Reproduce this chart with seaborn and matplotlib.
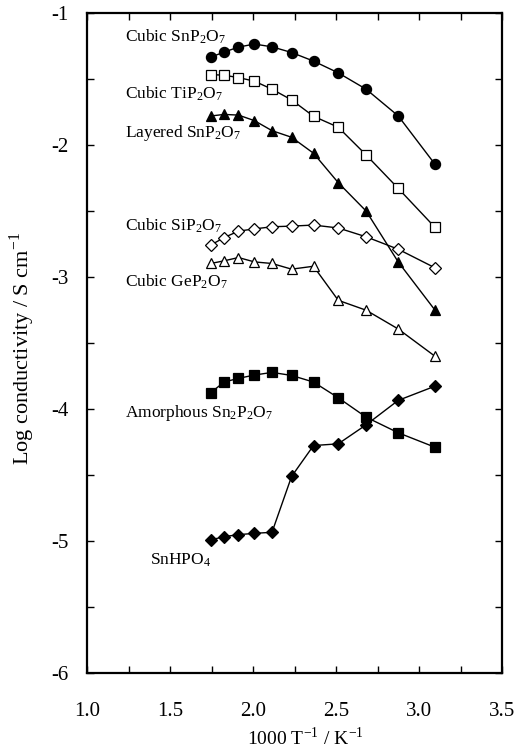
import numpy as np
import pandas as pd
import matplotlib
matplotlib.use("Agg")
import matplotlib.pyplot as plt
from matplotlib.ticker import MultipleLocator
import seaborn as sns

# 1000/T values (K^-1)
x_vals = [1.745, 1.825, 1.912, 2.008, 2.114, 2.232, 2.364, 2.513, 2.681, 2.874, 3.096]

cubic_snp2o7 = [-1.336, -1.298, -1.260, -1.237, -1.258, -1.301, -1.366, -1.455, -1.579, -1.781, -2.148]
cubic_tip2o7 = [-1.468, -1.473, -1.491, -1.518, -1.579, -1.660, -1.784, -1.867, -2.077, -2.330, -2.626]
layered_snp2o7 = [-1.782, -1.770, -1.775, -1.817, -1.893, -1.943, -2.064, -2.287, -2.502, -2.887, -3.253]
cubic_sip2o7 = [-2.760, -2.703, -2.654, -2.637, -2.621, -2.616, -2.608, -2.630, -2.697, -2.791, -2.932]
cubic_gep2o7 = [-2.899, -2.879, -2.854, -2.887, -2.899, -2.942, -2.920, -3.178, -3.253, -3.395, -3.602]
amorphous_sn2p2o7 = [-3.878, -3.797, -3.769, -3.744, -3.724, -3.747, -3.797, -3.916, -4.063, -4.181, -4.291]
snhpo4 = [-4.993, -4.968, -4.953, -4.943, -4.935, -4.512, -4.278, -4.265, -4.121, -3.936, -3.828]

labels = ["Cubic SnP$\\mathregular{_2}$O$\\mathregular{_7}$",
          "Cubic TiP$\\mathregular{_2}$O$\\mathregular{_7}$",
          "Layered SnP$\\mathregular{_2}$O$\\mathregular{_7}$",
          "Cubic SiP$\\mathregular{_2}$O$\\mathregular{_7}$",
          "Cubic GeP$\\mathregular{_2}$O$\\mathregular{_7}$",
          "Amorphous Sn$\\mathregular{_2}$P$\\mathregular{_2}$O$\\mathregular{_7}$",
          "SnHPO$\\mathregular{_4}$"]
label_x = [1.23, 1.23, 1.23, 1.23, 1.23, 1.23, 1.38]
label_y = [-1.18, -1.61, -1.91, -2.61, -3.04, -4.03, -5.15]

series = [cubic_snp2o7, cubic_tip2o7, layered_snp2o7, cubic_sip2o7,
          cubic_gep2o7, amorphous_sn2p2o7, snhpo4]
styles = [("o", "black", 7.3), ("s", "white", 6.6), ("^", "black", 7.5),
          ("D", "white", 5.9), ("^", "white", 7.5), ("s", "black", 6.6),
          ("D", "black", 5.9)]

sns.set_style("ticks")
plt.rcParams["font.family"] = ["Liberation Serif", "STIXGeneral", "DejaVu Serif"]
plt.rcParams["mathtext.fontset"] = "stix"
plt.rcParams["axes.unicode_minus"] = False
for k in ["text.color", "axes.labelcolor", "xtick.color", "ytick.color", "axes.edgecolor"]:
    plt.rcParams[k] = "black"

fig = plt.figure(figsize=(5.15, 7.51), dpi=100)
ax = fig.add_axes([0.169, 0.104, 0.806, 0.879])

for vals, (mk, fc, ms) in zip(series, styles):
    df = pd.DataFrame({"x": x_vals, "y": vals})
    sns.lineplot(data=df, x="x", y="y", ax=ax, color="black", linewidth=1.0,
                 marker=mk, markersize=ms, markerfacecolor=fc,
                 markeredgecolor="black", markeredgewidth=0.9)

for t, lx, ly in zip(labels, label_x, label_y):
    ax.text(lx, ly, t, fontsize=12.5, ha="left", va="center")

ax.set_xlim(1.0, 3.5)
ax.set_ylim(-6, -1)
ax.xaxis.set_major_locator(MultipleLocator(0.5))
ax.xaxis.set_minor_locator(MultipleLocator(0.25))
ax.yaxis.set_major_locator(MultipleLocator(1))
ax.yaxis.set_minor_locator(MultipleLocator(0.5))
ax.xaxis.set_major_formatter(plt.FuncFormatter(lambda v, p: f"{v:.1f}"))
ax.yaxis.set_major_formatter(plt.FuncFormatter(lambda v, p: f"{int(round(v))}"))
ax.tick_params(which="both", direction="in", top=True, right=True,
               length=5, width=1.0, labelsize=15)
ax.tick_params(axis="x", which="both", pad=21)
ax.tick_params(axis="y", which="both", pad=13.5)
for s in ax.spines.values():
    s.set_linewidth(1.6)
    s.set_visible(True)

ax.set_xlabel("1000 T$^{\\mathregular{-1}}$ / K$^{\\mathregular{-1}}$", fontsize=14)
ax.set_ylabel("Log conductivity / S cm$^{\\mathregular{-1}}$", fontsize=16)
ax.xaxis.set_label_coords(0.5265, -0.082)
ax.yaxis.set_label_coords(-0.12, 0.492)

fig.savefig("out.png", dpi=100)
